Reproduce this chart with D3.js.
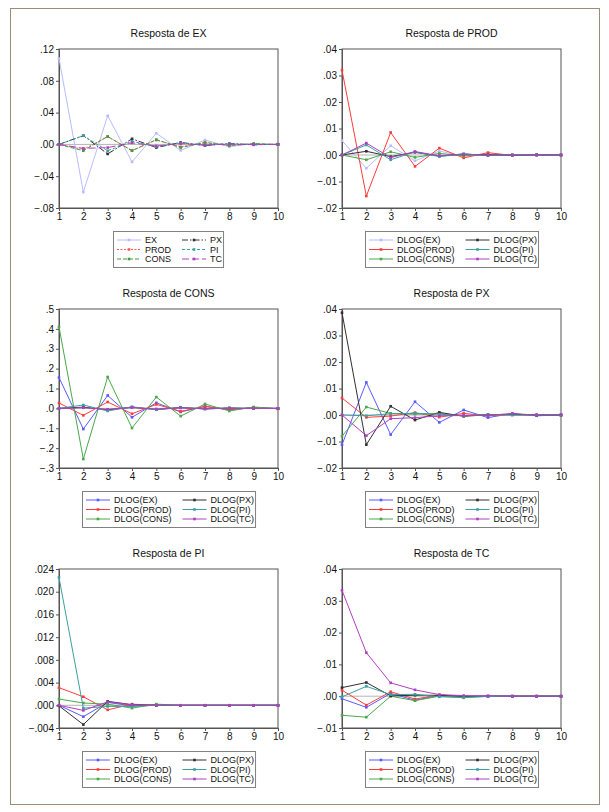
<!DOCTYPE html>
<html><head><meta charset="utf-8">
<script src="https://cdn.jsdelivr.net/npm/d3@7"></script>
<style>body{margin:0;background:#fff;} text{font-family:"Liberation Sans",Arial,sans-serif;}</style>
</head><body><svg id="c" width="609" height="812"></svg>
<script>
const periods = [1,2,3,4,5,6,7,8,9,10];
const seriesShort = ["EX","PROD","CONS","PX","PI","TC"];
const seriesDlog = ["DLOG(EX)","DLOG(PROD)","DLOG(CONS)","DLOG(PX)","DLOG(PI)","DLOG(TC)"];
const titles = ["Resposta de EX","Resposta de PROD","Resposta de CONS","Resposta de PX","Resposta de PI","Resposta de TC"];

// series order: EX, PROD, CONS, PX, PI, TC
const respEX = [
  [0.108,-0.060,0.036,-0.022,0.014,-0.0076,0.0055,-0.003,0.0013,-0.0004],
  [0,-0.0063,0.0097,-0.0076,0.0055,-0.003,0.002,-0.001,0.0005,0],
  [0,-0.008,0.010,-0.008,0.006,-0.004,0.0025,-0.0015,0.001,-0.0003],
  [0,0.011,-0.012,0.007,-0.004,0.0025,-0.0015,0.001,-0.0005,0.0002],
  [0,0.011,-0.008,0.004,-0.003,0.002,-0.001,0.0008,-0.0004,0.0001],
  [0,-0.005,-0.004,0.002,-0.002,0.001,-0.0008,0.0004,-0.0002,0]
];
const respPROD = [
  [0.0054,-0.005,0.0035,-0.0022,0.0015,-0.0005,0.0004,0,0,0],
  [0.032,-0.0155,0.0085,-0.0043,0.0026,-0.0011,0.0009,-0.0002,0.0002,0],
  [0,-0.0018,0.0012,-0.0009,0.0006,-0.0003,0.0002,-0.0001,0,0],
  [0,0.0014,-0.0006,0.001,-0.0004,0.0003,0,0,0,0],
  [0,0.0038,-0.0018,0.0012,-0.0006,0.0004,-0.0002,0.0001,0,0],
  [0,0.0045,-0.001,0.0013,-0.0003,0.0004,-0.0002,0,0,0]
];
const respCONS = [
  [0.155,-0.104,0.065,-0.045,0.028,-0.018,0.010,-0.006,0.003,0],
  [0.027,-0.035,0.032,-0.027,0.020,-0.015,0.010,-0.008,0.005,-0.002],
  [0.41,-0.255,0.158,-0.099,0.057,-0.039,0.022,-0.013,0.007,-0.002],
  [0,0.006,-0.007,0.006,-0.006,0.005,-0.003,0.002,-0.001,0],
  [0,0.017,-0.013,0.008,-0.007,0.004,-0.003,0.002,-0.001,0],
  [0,0.003,-0.005,0.004,-0.003,0.002,-0.001,0.001,0,0]
];
const respPX = [
  [-0.0112,0.0123,-0.0074,0.005,-0.0028,0.0019,-0.001,0.0006,-0.0003,0],
  [0.0064,-0.0009,-0.0004,0.0009,-0.0008,0.0006,-0.0003,0.0002,0,0],
  [-0.008,0.003,0.0006,0.0003,0.0006,-0.0003,0.0002,0,0,0],
  [0.0386,-0.0112,0.0033,-0.0019,0.001,-0.0005,0.0001,0.0003,0,0],
  [0,-0.0003,0.0005,0.0006,0.0003,-0.0003,0.0001,0,0,0],
  [0,-0.0078,-0.0014,-0.001,-0.0003,-0.0002,-0.0001,0.0005,0,0]
];
const respPI = [
  [0,-0.002,0.0005,-0.0001,0,0,0,0,0,0],
  [0.0031,0.0015,-0.0008,0.0002,0,0,0,0,0,0],
  [0.0011,0.0004,0.0002,-0.0005,0.0002,0,0,0,0,0],
  [-0.0001,-0.0034,0.0007,0.0001,0,0,0,0,0,0],
  [0.0225,-0.0005,-0.0002,-0.0002,0,0,0,0,0,0],
  [0,-0.0009,0.0006,0.0001,0,0,0,0,0,0]
];
const respTC = [
  [-0.0008,-0.0035,0.0009,-0.0013,0.0003,0,0,0,0,0],
  [0.0019,-0.0028,0.0014,-0.0009,0.0004,-0.0001,0,0,0,0],
  [-0.006,-0.0066,0,-0.0014,0,-0.0005,0,0,0,0],
  [0.0027,0.0043,0.0001,0.0003,0.0003,-0.0001,0,0,0,0],
  [-0.0002,0.0031,0.0005,0.0006,-0.0002,-0.0003,-0.0001,0,0,0],
  [0.0333,0.0137,0.0042,0.002,0.0005,0.0002,0.0001,0,0,0]
];
const ticksEX = [-0.08,-0.04,0,0.04,0.08,0.12];
const ticksPROD = [-0.02,-0.01,0,0.01,0.02,0.03,0.04];
const ticksCONS = [-0.3,-0.2,-0.1,0,0.1,0.2,0.3,0.4,0.5];
const ticksPX = [-0.02,-0.01,0,0.01,0.02,0.03,0.04];
const ticksPI = [-0.004,0,0.004,0.008,0.012,0.016,0.020,0.024];
const ticksTC = [-0.01,0,0.01,0.02,0.03,0.04];

const colorsPale = ["#b8bcff","#ff5a5a","#3e9e3e","#303030","#3aa0a0","#b040c0"];
const colorsMain = ["#5a5aff","#ff3c3c","#4aa84a","#303030","#3aa0a0","#b040c0"];
const dashesEX = [null,"2,1.5","4,2","6,2,1.5,2","3,2","7,3"];

const panels = [
  {data:respEX, ticks:ticksEX, dec:2, col:0,row:0, labels:seriesShort, colors:colorsPale, dashes:dashesEX},
  {data:respPROD, ticks:ticksPROD, dec:2, col:1,row:0, labels:seriesDlog, colors:colorsPale.slice(0,1).concat(colorsMain.slice(1)), dashes:null},
  {data:respCONS, ticks:ticksCONS, dec:1, col:0,row:1, labels:seriesDlog, colors:colorsMain, dashes:null},
  {data:respPX, ticks:ticksPX, dec:2, col:1,row:1, labels:seriesDlog, colors:colorsMain, dashes:null},
  {data:respPI, ticks:ticksPI, dec:3, col:0,row:2, labels:seriesDlog, colors:colorsMain, dashes:null},
  {data:respTC, ticks:ticksTC, dec:2, col:1,row:2, labels:seriesDlog, colors:colorsMain, dashes:null}
];

const svg = d3.select("#c");
svg.append("rect").attr("x",10.5).attr("y",8.5).attr("width",589).attr("height",796)
  .attr("fill","none").attr("stroke","#a08a78").attr("stroke-width",1);

const colLeft=[59,342], plotW=219, rowTop=[49,309,569], plotH=159;

panels.forEach((p,i)=>{
  const L=colLeft[p.col], T=rowTop[p.row], R=L+plotW, B=T+plotH;
  const x=d3.scaleLinear().domain([1,10]).range([L,R]);
  const y=d3.scaleLinear().domain(d3.extent(p.ticks)).range([B,T]);
  const g=svg.append("g");
  const fmt=v=>{let s=d3.format("."+p.dec+"f")(Math.abs(v)<1e-12?0:v);return s.replace("0.",".");};
  g.append("text").attr("x",(L+R)/2).attr("y",T-12).attr("text-anchor","middle")
    .attr("font-size","10.5px").attr("fill","#111").text(titles[i]);
  // zero line
  g.append("line").attr("x1",L).attr("x2",R).attr("y1",y(0)).attr("y2",y(0))
    .attr("stroke","#b4b4b4").attr("stroke-width",1);
  // frame
  g.append("rect").attr("x",L).attr("y",T).attr("width",plotW).attr("height",plotH)
    .attr("fill","none").attr("stroke","#555").attr("stroke-width",1);
  const ya=g.append("g").attr("transform",`translate(${L},0)`)
    .call(d3.axisLeft(y).tickValues(p.ticks).tickFormat(fmt).tickSize(3).tickPadding(2));
  const xa=g.append("g").attr("transform",`translate(0,${B})`)
    .call(d3.axisBottom(x).tickValues(periods).tickFormat(d3.format("d")).tickSize(3).tickPadding(2));
  [ya,xa].forEach(a=>{a.select(".domain").attr("stroke","#555");a.selectAll("line").attr("stroke","#555");
    a.selectAll("text").attr("font-size","10px").attr("fill","#111").attr("font-family","Liberation Sans, Arial, sans-serif");});
  const line=d3.line().x((d,k)=>x(periods[k])).y(d=>y(d));
  p.data.forEach((s,k)=>{
    g.append("path").attr("d",line(s)).attr("fill","none").attr("stroke",p.colors[k])
      .attr("stroke-width",1).attr("stroke-dasharray",p.dashes?p.dashes[k]:null);
    g.selectAll(null).data(s).enter().append("rect")
      .attr("x",(d,j)=>x(periods[j])-1.3).attr("y",d=>y(d)-1.3).attr("width",2.6).attr("height",2.6)
      .attr("fill",p.colors[k]);
  });
  // legend
  const lg=svg.append("g");
  const lt=B+23;
  const rowsY=[9,18.5,28];
  const tmp=lg.append("g");
  const c1=[0,1,2], c2=[3,4,5];
  const w=l=>{const t=tmp.append("text").attr("font-size","9px").text(l);const v=t.node().getComputedTextLength();t.remove();return v;};
  const w1=d3.max(c1,k=>w(p.labels[k])), w2=d3.max(c2,k=>w(p.labels[k]));
  const col2=32+w1+7;
  const boxW=col2+28+w2+5;
  const bx=Math.round((L+R)/2-boxW/2);
  lg.append("rect").attr("x",bx+0.5).attr("y",lt+0.5).attr("width",boxW).attr("height",36)
    .attr("fill","#fff").attr("stroke","#808080");
  p.labels.forEach((lab,k)=>{
    const cx = k<3 ? bx : bx+col2;
    const yy = lt+rowsY[k%3];
    lg.append("line").attr("x1",cx+4).attr("x2",cx+28).attr("y1",yy).attr("y2",yy)
      .attr("stroke",p.colors[k]).attr("stroke-width",1).attr("stroke-dasharray",p.dashes?p.dashes[k]:null);
    lg.append("rect").attr("x",cx+16-1.3).attr("y",yy-1.3).attr("width",2.6).attr("height",2.6).attr("fill",p.colors[k]);
    lg.append("text").attr("x",cx+32).attr("y",yy+3.3).attr("font-size","9px").attr("fill","#111").text(lab);
  });
});
</script></body></html>
